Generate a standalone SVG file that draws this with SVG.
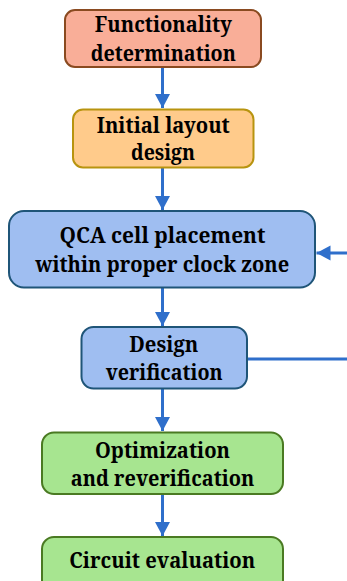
<svg xmlns="http://www.w3.org/2000/svg" width="347" height="581" viewBox="0 0 347 581">
  <style>
    .box { stroke-width: 2; }
    .red { fill: #F9AE98; stroke: #8A4A20; }
    .orange { fill: #FFCB8B; stroke: #B8940F; }
    .blue { fill: #9FBEF1; stroke: #1F5578; }
    .green { fill: #A7E590; stroke: #4A7A22; }
    .label { font-family: "Noto Serif", "DejaVu Serif", serif; font-weight: bold; font-size: 21px; fill: #000; text-anchor: middle; }
    .conn { stroke: #2F6FCB; stroke-width: 3; fill: none; }
  </style>
  <defs>
    <marker id="arrow" markerUnits="userSpaceOnUse" markerWidth="16" markerHeight="16" refX="14" refY="8" orient="auto">
      <path d="M0,0.5 L14,8 L0,15.5 Z" fill="#2F6FCB"/>
    </marker>
  </defs>
  <rect width="347" height="581" fill="#FFFFFF"/>

  <g id="connectors">
    <line class="conn" x1="162.5" y1="68" x2="162.5" y2="108" marker-end="url(#arrow)"/>
    <line class="conn" x1="162.5" y1="168" x2="162.5" y2="210" marker-end="url(#arrow)"/>
    <line class="conn" x1="162.5" y1="288" x2="162.5" y2="326" marker-end="url(#arrow)"/>
    <line class="conn" x1="162.5" y1="389" x2="162.5" y2="431" marker-end="url(#arrow)"/>
    <line class="conn" x1="162.5" y1="495" x2="162.5" y2="536" marker-end="url(#arrow)"/>
    <line class="conn" x1="248" y1="359" x2="347" y2="359"/>
    <line class="conn" x1="347" y1="253" x2="316.5" y2="253" marker-end="url(#arrow)"/>
  </g>

  <g id="functionality">
    <rect class="box red" x="65" y="10" width="196" height="57" rx="10"/>
    <text class="label" x="163.3" y="32" textLength="137" lengthAdjust="spacingAndGlyphs">Functionality</text>
    <text class="label" x="163.3" y="61" textLength="145" lengthAdjust="spacingAndGlyphs">determination</text>
  </g>

  <g id="initial-layout">
    <rect class="box orange" x="73" y="109.5" width="180.5" height="58" rx="10"/>
    <text class="label" x="163.3" y="133" textLength="133" lengthAdjust="spacingAndGlyphs">Initial layout</text>
    <text class="label" x="163" y="160" textLength="64" lengthAdjust="spacingAndGlyphs">design</text>
  </g>

  <g id="cell-placement">
    <rect class="box blue" x="9" y="211" width="306" height="76.5" rx="15"/>
    <text class="label" x="162.5" y="243" textLength="206" lengthAdjust="spacingAndGlyphs">QCA cell placement</text>
    <text class="label" x="162.2" y="272" textLength="254" lengthAdjust="spacingAndGlyphs">within proper clock zone</text>
  </g>

  <g id="verification">
    <rect class="box blue" x="81.5" y="327" width="165.5" height="61.5" rx="12"/>
    <text class="label" x="163.8" y="352" textLength="69" lengthAdjust="spacingAndGlyphs">Design</text>
    <text class="label" x="164.2" y="380" textLength="117" lengthAdjust="spacingAndGlyphs">verification</text>
  </g>

  <g id="optimization">
    <rect class="box green" x="42" y="432.5" width="241" height="61.5" rx="12"/>
    <text class="label" x="162.5" y="458" textLength="135" lengthAdjust="spacingAndGlyphs">Optimization</text>
    <text class="label" x="162.5" y="486" textLength="183.5" lengthAdjust="spacingAndGlyphs">and reverification</text>
  </g>

  <g id="evaluation">
    <rect class="box green" x="42" y="537" width="241" height="60" rx="12"/>
    <text class="label" x="162.3" y="568" textLength="186" lengthAdjust="spacingAndGlyphs">Circuit evaluation</text>
  </g>
</svg>
